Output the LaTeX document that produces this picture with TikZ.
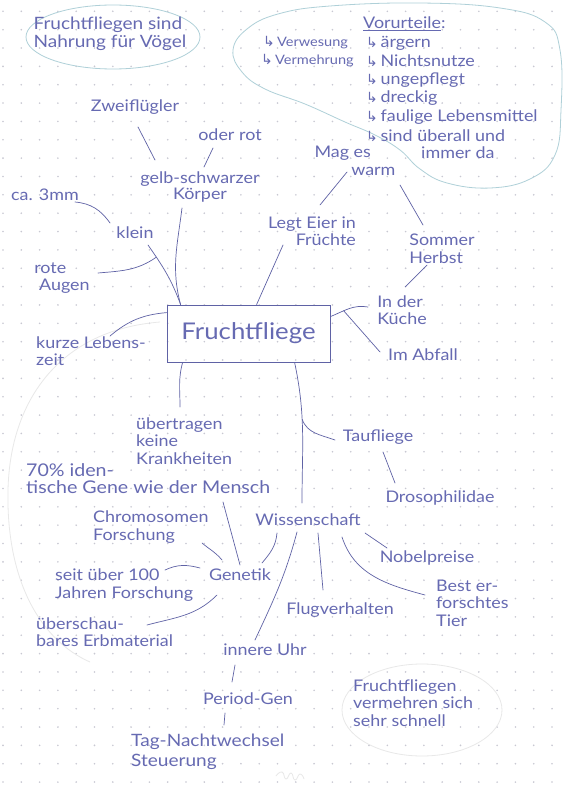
\documentclass[tikz,border=0pt]{standalone}
\usepackage{fontspec}
\setmainfont{Lato}[FakeStretch=1.12]
\newfontfamily\arrowfont{DejaVu Sans}
\usetikzlibrary{calc}
\definecolor{ink}{RGB}{95,98,165}
\definecolor{inktext}{RGB}{102,106,178}
\definecolor{dotc}{RGB}{200,200,210}
\definecolor{tealline}{RGB}{175,208,216}
\definecolor{faintline}{RGB}{232,232,232}
\newcommand\hookarr{{\arrowfont\fontsize{14}{14}\selectfont ↳}\,}
\begin{document}
\begin{tikzpicture}[x=1pt,y=-1pt,
  every node/.style={text=inktext, font=\fontsize{16}{17.5}\selectfont, inner sep=1pt},
  lbl/.style={align=left},
  small/.style={font=\fontsize{13}{15}\selectfont},
  big/.style={font=\fontsize{17}{18}\selectfont},
  link/.style={draw=ink, line width=0.7pt, line cap=round},
  bubble/.style={draw=tealline, line width=0.8pt},
  faint/.style={draw=faintline, line width=0.8pt}]
% paper with dot grid
\fill[white] (0,0) rectangle (562,786);
\useasboundingbox (0,0) rectangle (562,786);
\foreach \i in {0,...,30}
  \foreach \j in {0,...,42}
    \fill[dotc] ({3+18.3*\i},{11.35+18.35*\j}) circle[radius=0.9pt];

% faint pencil outlines
\draw[faint] (422,710) ellipse[x radius=80, y radius=46];
\draw[faint] (160,322) .. controls (60,330) and (10,400) .. (8,490)
  .. controls (6,580) and (40,640) .. (90,662);
\draw[faint] plot[smooth, tension=1] coordinates {(276,776) (282,772) (286,779) (291,773) (295,780) (300,774) (304,779)};

% bubbles
\draw[bubble] (113,37) ellipse[x radius=87, y radius=32];
\draw[bubble] plot[smooth cycle, tension=0.7] coordinates {
  (233,50) (247,29) (278,14) (330,6) (420,3) (500,8) (545,22) (560,50)
  (561,110) (555,155) (530,179) (490,188) (447,183) (420,169) (400,150)
  (375,135) (345,122) (305,104) (265,89) (242,72)};

% main node
\node[draw=ink, line width=0.8pt, minimum width=163pt, minimum height=57pt,
      font=\fontsize{23}{25}\selectfont] (box) at (248.5,333.5) {Fruchtfliege};

% side notes
\node[lbl, big] (nahrung) at (110,34) {Fruchtfliegen sind\\Nahrung für Vögel};
\node[anchor=west] (vorurteile) at (362,24) {\underline{Vorurteile}:};
\node[anchor=west] (v1) at (365,43) {\hookarr ärgern};
\node[anchor=west] (v2) at (365,61) {\hookarr Nichtsnutze};
\node[anchor=west] (v3) at (365,80) {\hookarr ungepflegt};
\node[anchor=west] (v4) at (365,98) {\hookarr dreckig};
\node[anchor=west] (v5) at (365,117) {\hookarr faulige Lebensmittel};
\node[anchor=west] (v6) at (365,136) {\hookarr sind überall und};
\node[anchor=west] (v7) at (420,153) {immer da};
\node[anchor=west, small] (verw) at (262,43) {\hookarr Verwesung};
\node[anchor=west, small] (vermehr) at (260,61) {\hookarr Vermehrung};
\node[lbl, anchor=west] (vermehren) at (352,703) {Fruchtfliegen\\vermehren sich\\sehr schnell};

% upper left branches
\node (zweifl) at (135,107) {Zweiflügler};
\node (oderrot) at (230,135) {oder rot};
\node[align=center, font=\fontsize{16}{14}\selectfont] (koerper) at (200,187) {gelb-schwarzer\\Körper};
\node (ca) at (45,195) {ca. 3mm};
\node (klein) at (135,233) {klein};
\node[lbl] (rote) at (62,278) {rote\\\hspace*{0.3em}Augen};
\node[lbl, anchor=west] (kurze) at (35,351) {kurze Lebens-\\zeit};

% upper right branches
\node[align=right] (legt) at (312,231) {Legt Eier in\\Früchte};
\node[lbl] (mag) at (355,161) {Mag es\\\hspace*{2.3em}warm};
\node[lbl] (sommer) at (442,249) {Sommer\\Herbst};
\node[lbl] (kueche) at (402,310) {In der\\Küche};
\node (abfall) at (423,355) {Im Abfall};

% lower branches
\node[lbl, anchor=west] (ueb) at (135,441) {übertragen\\keine\\Krankheiten};
\node[lbl, anchor=west, font=\fontsize{17.5}{17}\selectfont] (gene) at (25,479) {70\% iden-\\tische Gene wie der Mensch};
\node[lbl, anchor=west] (chromo) at (92,527) {Chromosomen\\Forschung};
\node (genetik) at (240,575) {Genetik};
\node[lbl, anchor=west] (seit) at (54,585) {seit über 100\\Jahren Forschung};
\node[lbl, anchor=west] (ueberschau) at (35,632) {überschau-\\bares Erbmaterial};
\node (wissen) at (308,520) {Wissenschaft};
\node (tau) at (378,437) {Taufliege};
\node (droso) at (440,498) {Drosophilidae};
\node (nobel) at (427,558) {Nobelpreise};
\node[lbl, anchor=west] (best) at (435,603) {Best er-\\forschtes\\Tier};
\node (flug) at (340,610) {Flugverhalten};
\node (uhr) at (265,650) {innere Uhr};
\node (period) at (248,699) {Period-Gen};
\node[lbl, anchor=west, font=\fontsize{17}{20}\selectfont] (tag) at (130,752) {Tag-Nachtwechsel\\Steuerung};

% connectors: upper left
\draw[link] ($(zweifl)+(3,20)$) -- ($(koerper)+(-45,-27)$);
\draw[link] ($(oderrot)+(-17,13)$) -- ($(koerper)+(4,-20)$);
\draw[link] ($(ca)+(30,7)$) to[out=-5, in=125] ($(klein)+(-25,-10)$);
\draw[link] ($(klein)+(13,12)$) to[out=-55, in=110] coordinate[pos=0.2] (kl1) ($(box.north west)+(14,0)$);
\draw[link] ($(rote)+(36,-5)$) to[out=5, in=215] (kl1);
\draw[link] ($(koerper)+(-18,21)$) to[out=-97, in=105] ($(box.north west)+(14,0)$);
\draw[link] ($(box.north west)+(0,8)$) to[out=185, in=40] ($(kurze.west)+(75,-15)$);

% connectors: upper right
\draw[link] ($(legt)+(-29,14)$) -- ($(box.north west)+(90,0)$);
\draw[link] ($(legt)+(8,-26)$) -- ($(mag)+(-8,11)$);
\draw[link] ($(mag)+(45,24)$) -- ($(sommer)+(-19,-24)$);
\draw[link] ($(sommer)+(-15,16)$) -- ($(kueche)+(3,-23)$);
\draw[link] ($(box.north east)+(0,12)$) to[out=22, in=170] coordinate[pos=0.35] (ku1) ($(kueche)+(-34,-3)$);
\draw[link] (ku1) -- ($(abfall)+(-43,-3)$);

% connectors: lower part
\draw[link] ($(box.south west)+(16,0)$) to[out=-105, in=90] ($(ueb.west)+(45,-34)$);
\draw[link] ($(box.south west)+(128,0)$) to[out=-78, in=90] coordinate[pos=0.4] (wi1) ($(wissen)+(-6,-17)$);
\draw[link] (wi1) to[out=-70, in=160] ($(tau)+(-43,3)$);
\draw[link] ($(tau)+(5,15)$) -- ($(droso)+(-45,-15)$);
\draw[link] ($(wissen)+(-31,13)$) to[out=-95, in=50] ($(genetik)+(22,-12)$);
\draw[link] ($(wissen)+(-11,12)$) to[out=-105, in=65] ($(uhr)+(-10,-10)$);
\draw[link] ($(wissen)+(10,13)$) -- ($(flug)+(-17,-20)$);
\draw[link] ($(wissen)+(57,13)$) -- ($(nobel)+(-40,-10)$);
\draw[link] ($(wissen)+(34,17)$) to[out=-72, in=165] ($(best.west)+(-10,-8)$);
\draw[link] ($(gene.west)+(198,23)$) -- ($(genetik)+(0,-10)$);
\draw[link] ($(chromo.west)+(110,16)$) to[out=-40, in=130] ($(genetik)+(-18,-15)$);
\draw[link] ($(seit.west)+(111,-15)$) to[out=25, in=165] ($(genetik)+(-40,-7)$);
\draw[link] ($(ueberschau.west)+(112,-7)$) to[out=15, in=225] ($(genetik)+(-23,20)$);
\draw[link] ($(uhr)+(-30,15)$) -- ($(period)+(-16,-17)$);
\draw[link] ($(period)+(-23,14)$) -- ($(tag.west)+(94,-27)$);
\end{tikzpicture}
\end{document}
